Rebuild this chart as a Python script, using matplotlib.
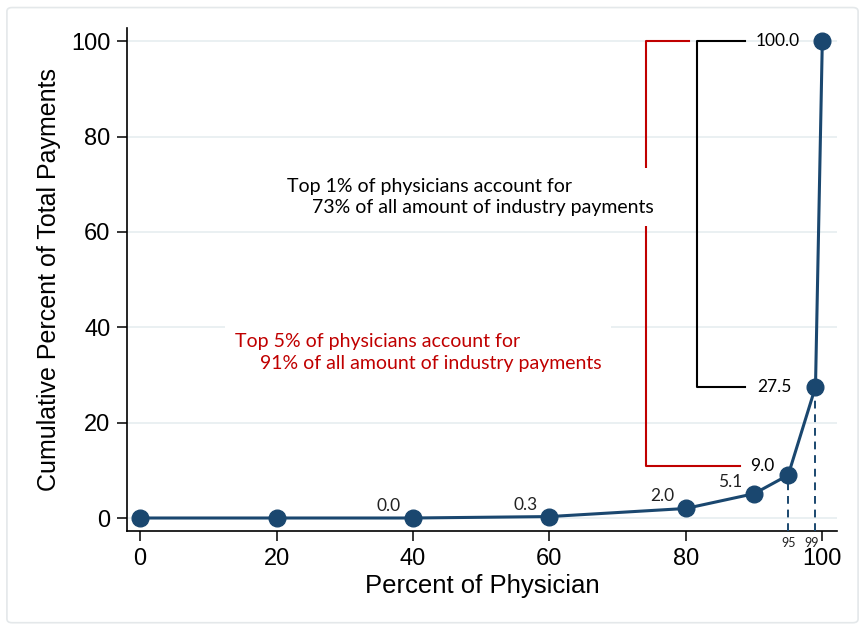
import matplotlib.pyplot as plt
import matplotlib.transforms as mtransforms
from matplotlib.patches import FancyBboxPatch

# percent of physicians vs cumulative percent of payments
pct_phys = [0, 20, 40, 60, 80, 90, 95, 99, 100]
cum_pay = [0.0, 0.0, 0.0, 0.3, 2.0, 5.1, 9.0, 27.5, 100.0]
labelled = [40, 60, 80, 90]          # points with a value label next to them
dashed_at = [95, 99]                 # drop lines + small labels
x_ticks = [0, 20, 40, 60, 80, 100]
y_ticks = [0, 20, 40, 60, 80, 100]

navy = '#1a476f'
red = '#c00000'
grid_col = '#e6eef0'
note_font = 'Lato'

fig = plt.figure(figsize=(8.65, 6.29), dpi=100)
fig.patches.append(FancyBboxPatch((0.008, 0.01), 0.984, 0.978,
                                  boxstyle='round,pad=0,rounding_size=0.006',
                                  transform=fig.transFigure, fc='white',
                                  ec='#e4e8ea', lw=1.2, zorder=-10))
ax = fig.add_axes([0.147, 0.156, 0.821, 0.799])
ax.set_facecolor('none')

ax.set_xlim(-1.9, 102.2)
ax.set_ylim(-2.7, 102.7)
ax.set_xticks(x_ticks)
ax.set_yticks(y_ticks)
ax.tick_params(labelsize=17, length=7, width=1.1, direction='out', pad=5)
for s in ['top', 'right']:
    ax.spines[s].set_visible(False)
for s in ['left', 'bottom']:
    ax.spines[s].set_linewidth(1.2)
for y in y_ticks:
    ax.axhline(y, color=grid_col, lw=1.2, zorder=0)

ax.set_xlabel('Percent of Physician', fontsize=18.5, labelpad=3,
              family='Liberation Sans')
ax.set_ylabel('Cumulative Percent of Total Payments', fontsize=18, labelpad=7,
              family='Liberation Sans')
for lab in ax.get_xticklabels() + ax.get_yticklabels():
    lab.set_family('Liberation Sans')

ax.plot(pct_phys, cum_pay, color=navy, lw=2.2, marker='o', ms=12,
        zorder=5, clip_on=False)

tr = mtransforms.blended_transform_factory(ax.transData, ax.transAxes)
for x, y in zip(pct_phys, cum_pay):
    if x in labelled:
        ax.annotate(f'{y:.1f}', (x, y), xytext=(-24, 12),
                    textcoords='offset pixels', ha='center', va='center',
                    fontsize=12.5, family=note_font, color='#222222')
    if x in dashed_at:
        ax.plot([x, x], [ax.get_ylim()[0], y], color=navy, lw=1.4,
                ls=(0, (4, 3)), zorder=4, clip_on=False)
        shift = -4 if x == 99 else 0
        ax.annotate(str(x), (x, -0.012), xycoords=tr, xytext=(shift, 0),
                    textcoords='offset pixels', ha='center', va='top',
                    fontsize=9, family=note_font, color='#222222')

# brackets
y_top = cum_pay[-1]
y_99 = cum_pay[pct_phys.index(99)]
y_95 = cum_pay[pct_phys.index(95)] + 1.9
ax.plot([80.5, 74.2, 74.2, 88.0], [y_top, y_top, y_95, y_95],
        color=red, lw=1.5, zorder=2)
ax.plot([88.6, 81.7, 81.7, 88.6], [y_top, y_top, y_99, y_99],
        color='black', lw=1.5, zorder=2)
ax.text(90.2, y_top, f'{y_top:.1f}', fontsize=12.5, family=note_font,
        va='center', ha='left')
ax.text(90.5, y_99, f'{y_99:.1f}', fontsize=12.5, family=note_font,
        va='center', ha='left')
ax.text(89.4, y_95, f'{cum_pay[pct_phys.index(95)]:.1f}', fontsize=12.5,
        family=note_font, va='center', ha='left')

box = dict(boxstyle='square,pad=0.5', fc='white', ec='none')
ax.text(21.5, 67.3, 'Top 1% of physicians account for\n'
        '     73% of all amount of industry payments',
        fontsize=14, family=note_font, color='black', va='center',
        ha='left', linespacing=1.3, bbox=box, zorder=3)
ax.text(13.9, 34.7, 'Top 5% of physicians account for\n'
        '     91% of all amount of industry payments',
        fontsize=14, family=note_font, color=red, va='center',
        ha='left', linespacing=1.3, bbox=box, zorder=3)

fig.savefig('out.png', dpi=100)
